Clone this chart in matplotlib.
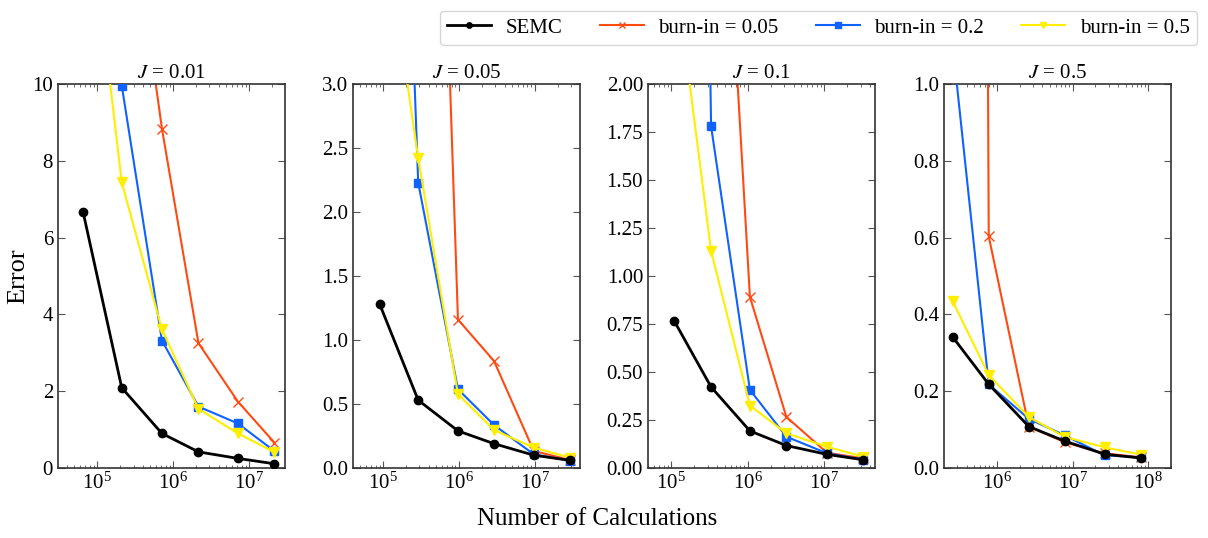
import matplotlib
matplotlib.use("Agg")
import matplotlib.pyplot as plt
import numpy as np

plt.rcParams['font.family'] = ['Liberation Serif', 'DejaVu Serif']
plt.rcParams['mathtext.fontset'] = 'stix'

j_values = ['0.01', '0.05', '0.1', '0.5']

# number of calculations for each J
calcs = [
    [6.5e4, 2.1e5, 7.1e5, 2.15e6, 7.1e6, 2.15e7],
    [9.0e4, 2.9e5, 9.7e5, 2.9e6, 9.7e6, 2.9e7],
    [1.1e5, 3.33e5, 1.07e6, 3.2e6, 1.08e7, 3.2e7],
    [2.63e5, 7.85e5, 2.65e6, 7.9e6, 2.65e7, 7.9e7],
]

semc = [
    [6.67, 2.09, 0.90, 0.42, 0.25, 0.11],
    [1.28, 0.53, 0.29, 0.19, 0.10, 0.06],
    [0.766, 0.422, 0.193, 0.117, 0.071, 0.043],
    [0.341, 0.218, 0.108, 0.070, 0.036, 0.026],
]
burn_005 = [
    [40.0, 16.4, 8.84, 3.25, 1.73, 0.66],
    [30.0, 10.4, 1.16, 0.836, 0.133, 0.063],
    [20.0, 4.4, 0.891, 0.266, 0.080, 0.050],
    [20.0, 0.603, 0.108, 0.067, 0.038, 0.028],
]
burn_02 = [
    [30.0, 9.96, 3.32, 1.60, 1.16, 0.44],
    [10.5, 2.23, 0.615, 0.336, 0.107, 0.057],
    [15.0, 1.78, 0.407, 0.163, 0.077, 0.043],
    [1.10, 0.218, 0.128, 0.085, 0.033, 0.028],
]
burn_05 = [
    [16.0, 7.44, 3.61, 1.54, 0.90, 0.41],
    [4.5, 2.42, 0.576, 0.297, 0.159, 0.081],
    [2.63, 1.131, 0.325, 0.181, 0.111, 0.059],
    [0.434, 0.242, 0.133, 0.081, 0.054, 0.035],
]

ylims = [10, 3.0, 2.0, 1.0]
ysteps = [2, 0.5, 0.25, 0.2]
xlims = [(3.04e4, 2.97e7), (4.0e4, 3.96e7), (5.0e4, 4.6e7), (2.02e5, 2.0e8)]
yfmt = ['{:.0f}', '{:.1f}', '{:.2f}', '{:.1f}']

fig = plt.figure(figsize=(12.08, 5.38), dpi=100)
lefts = [0.048, 0.2922, 0.5364, 0.7815]
axes = [fig.add_axes([l, 0.1301, 0.188, 0.7138]) for l in lefts]

for i, ax in enumerate(axes):
    x = calcs[i]
    ax.plot(x, semc[i], color='black', lw=2, marker='o', ms=6, label='SEMC', zorder=5)
    ax.plot(x, burn_005[i], color='#ff4a12', lw=1.5, marker='x', ms=7, mew=1,
            label='burn-in = 0.05', zorder=2)
    ax.plot(x, burn_02[i], color='#0f62fe', lw=1.5, marker='s', ms=6,
            label='burn-in = 0.2', zorder=3)
    ax.plot(x, burn_05[i], color='#ffee00', lw=1.5, marker='v', ms=7,
            label='burn-in = 0.5', zorder=4)
    ax.set_xscale('log')
    ax.set_xlim(*xlims[i])
    ax.set_ylim(0, ylims[i])
    yt = np.arange(0, ylims[i] + 1e-9, ysteps[i])
    ax.set_yticks(yt)
    ax.set_yticklabels([yfmt[i].format(v) for v in yt])
    ax.set_title(f'$J$ = {j_values[i]}', fontsize=15, pad=4)
    ax.tick_params(which='both', direction='in', top=True, right=True,
                   color='#555555', labelsize=15)
    ax.tick_params(which='major', length=5)
    ax.tick_params(which='minor', length=2.5)
    for s in ax.spines.values():
        s.set_color('#333333')
        s.set_linewidth(1.2)

axes[0].set_ylabel('Error', fontsize=19, labelpad=2)
fig.text(0.494, 0.025, 'Number of Calculations', ha='center', fontsize=18)

handles, labels = axes[0].get_legend_handles_labels()
fig.legend(handles, labels, loc='upper right', bbox_to_anchor=(0.9995, 0.9995),
           ncol=4, fontsize=15, frameon=True, edgecolor='#cccccc',
           handlelength=2.1, handletextpad=0.7, columnspacing=1.8,
           borderpad=0.35, markerscale=0.65)

fig.savefig('out.png', dpi=100)
